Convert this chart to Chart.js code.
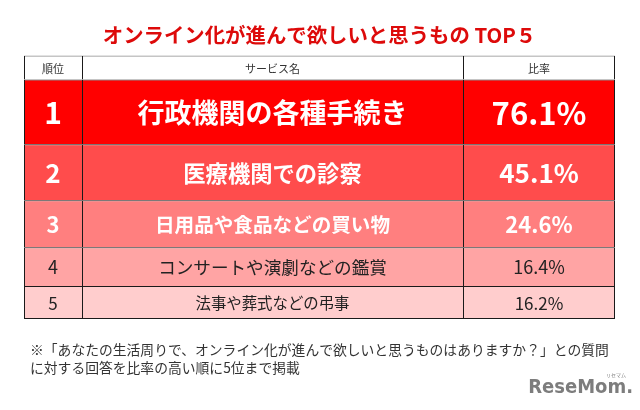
<!DOCTYPE html>
<html lang="ja">
<head>
<meta charset="utf-8">
<title>オンライン化が進んで欲しいと思うもの TOP5</title>
<script src="https://cdn.jsdelivr.net/npm/chart.js@4.4.1/dist/chart.umd.min.js"></script>
<style>
  html, body { margin: 0; padding: 0; background: #fff; }
  #wrap { width: 640px; height: 410px; }
</style>
</head>
<body>
<div id="wrap"><canvas id="chart"></canvas></div>
<script>
// table content
const columns = ['順位', 'サービス名', '比率'];
const ranks = ['1', '2', '3', '4', '5'];
const services = [
  '行政機関の各種手続き',
  '医療機関での診察',
  '日用品や食品などの買い物',
  'コンサートや演劇などの鑑賞',
  '法事や葬式などの弔事'
];
const rates = [76.1, 45.1, 24.6, 16.4, 16.2];

// table geometry in table units (header + 5 rows, 3 columns)
const rowHeights = [24, 65, 56, 47, 39, 33];
const colWidths = [58, 381, 152];

const rowColors = ['#ffffff', '#ff0000', '#ff4c4c', '#ff7f7f', '#ffa4a4', '#ffcdcd'];
const rowFonts = [
  { rank: 11, name: 11, rate: 11, weight: 'normal', color: '#333333' },
  { rank: 30, name: 27, rate: 31, weight: 'bold', color: '#ffffff' },
  { rank: 26, name: 22.3, rate: 26, weight: 'bold', color: '#ffffff' },
  { rank: 22, name: 19.6, rate: 22, weight: 'bold', color: '#ffffff' },
  { rank: 18, name: 17.6, rate: 18, weight: 'normal', color: '#222222' },
  { rank: 17, name: 15.4, rate: 17, weight: 'normal', color: '#222222' }
];
const FONT = '"Noto Sans CJK JP", "Noto Sans", sans-serif';

// cumulative edges
const rowEdges = [0];
rowHeights.forEach(h => rowEdges.push(rowEdges[rowEdges.length - 1] + h));
const colEdges = [0];
colWidths.forEach(w => colEdges.push(colEdges[colEdges.length - 1] + w));
const tableH = rowEdges[rowEdges.length - 1];
const tableW = colEdges[colEdges.length - 1];

// cell text per row (row 0 is the header)
const cellText = (col, row) => {
  if (row === 0) return columns[col];
  const i = row - 1;
  if (col === 0) return ranks[i];
  if (col === 1) return services[i];
  return rates[i].toFixed(1) + '%';
};

const datasets = columns.map((name, c) => ({
  label: name,
  stack: 'table',
  data: rowHeights.map((h, r) => ({
    x: (colEdges[c] + colEdges[c + 1]) / 2,
    y: [rowEdges[r], rowEdges[r + 1]]
  })),
  backgroundColor: rowColors,
  borderColor: '#1a1a1a',
  borderSkipped: false,
  inflateAmount: 0,
  borderWidth: (ctx) => ({
    top: 1,
    left: 1,
    right: c === columns.length - 1 ? 1 : 0,
    bottom: ctx.dataIndex === rowHeights.length - 1 ? 1 : 0
  }),
  // column width follows the x scale
  barThickness: (ctx) => {
    const sx = ctx.chart.scales.x;
    if (!sx || !sx.width) return 1;
    return sx.getPixelForValue(colEdges[c + 1]) - sx.getPixelForValue(colEdges[c]);
  }
}));

// writes the cell texts onto the bars
const cellLabels = {
  id: 'cellLabels',
  afterDatasetsDraw(chart) {
    const ctx = chart.ctx;
    ctx.save();
    ctx.textAlign = 'center';
    ctx.textBaseline = 'middle';
    chart.data.datasets.forEach((ds, c) => {
      chart.getDatasetMeta(c).data.forEach((bar, r) => {
        const f = rowFonts[r];
        const size = c === 0 ? f.rank : (c === 1 ? f.name : f.rate);
        ctx.font = f.weight + ' ' + size + 'px ' + FONT;
        ctx.fillStyle = f.color;
        ctx.fillText(cellText(c, r), bar.x, (bar.y + bar.base) / 2 + 1);
      });
    });
    ctx.restore();
  }
};

// footnote and site logo below the table
const footnote = {
  id: 'footnote',
  afterDraw(chart) {
    const ctx = chart.ctx;
    ctx.save();
    ctx.textBaseline = 'middle';
    ctx.textAlign = 'left';
    ctx.fillStyle = '#333333';
    ctx.font = '13.8px ' + FONT;
    ctx.fillText('※「あなたの生活周りで、オンライン化が進んで欲しいと思うものはありますか？」との質問', 30, 350);
    ctx.fillText('に対する回答を比率の高い順に5位まで掲載', 30, 368);

    ctx.textAlign = 'right';
    ctx.fillStyle = '#7d7d7d';
    ctx.font = 'bold 20px "DejaVu Sans Condensed", "Liberation Sans Narrow", sans-serif';
    ctx.fillText('ReseMom.', 633, 388);
    ctx.font = '5px ' + FONT;
    ctx.fillText('リセマム', 626, 375);
    ctx.restore();
  }
};

new Chart(document.getElementById('chart'), {
  type: 'bar',
  data: { datasets },
  options: {
    responsive: true,
    maintainAspectRatio: false,
    animation: false,
    indexAxis: 'x',
    layout: { padding: { left: 24, right: 25, top: 0, bottom: 91 } },
    scales: {
      x: { type: 'linear', min: 0, max: tableW, display: false, offset: false },
      y: { type: 'linear', min: 0, max: tableH, reverse: true, display: false, stacked: false }
    },
    plugins: {
      legend: { display: false },
      tooltip: { enabled: false },
      title: {
        display: true,
        text: 'オンライン化が進んで欲しいと思うもの TOP５',
        color: '#dd0a0a',
        font: { family: FONT, size: 20.4, weight: 'bold' },
        padding: { top: 23, bottom: 8 }
      }
    }
  },
  plugins: [cellLabels, footnote]
});
</script>
</body>
</html>
